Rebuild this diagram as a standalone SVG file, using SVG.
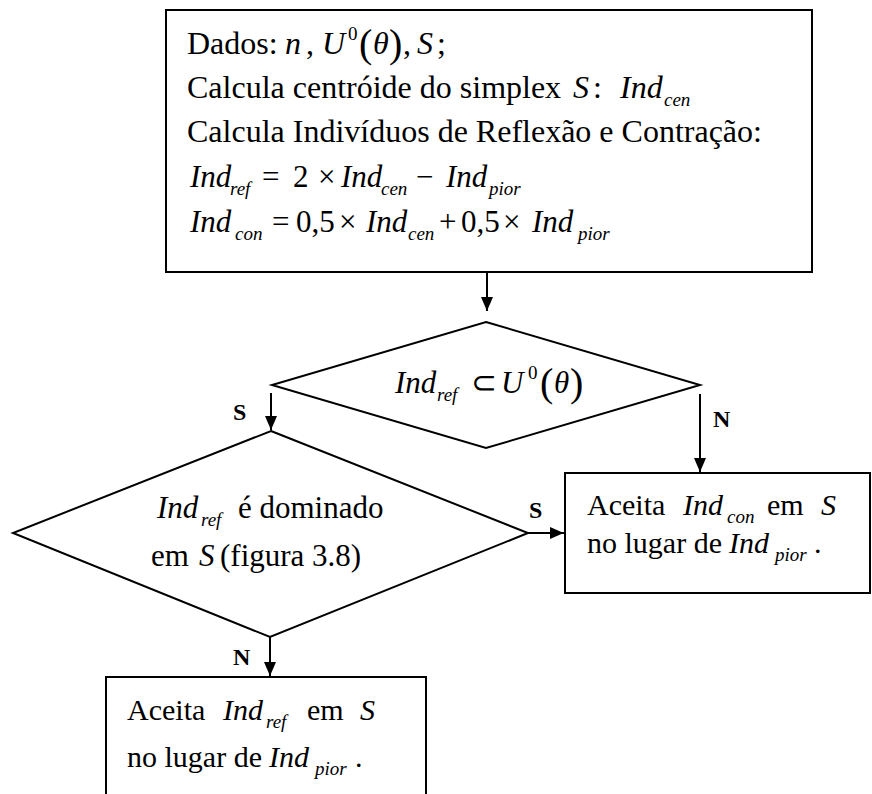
<svg xmlns="http://www.w3.org/2000/svg" width="872" height="794" viewBox="0 0 872 794">
<style>
text{font-family:"Liberation Serif","Times New Roman",serif;font-size:31px;fill:#000}
.t32{font-size:32px}
.t30{font-size:30px}
.i{font-style:italic}
.sub{font-style:italic;font-size:19px}
.sup{font-size:19px}
.par{font-size:40px}
.lbl{font-weight:bold;font-size:24px}
.box{fill:#fff;stroke:#000;stroke-width:2}
.ln{fill:none;stroke:#000;stroke-width:2}
</style>
<defs>
<marker id="ah" markerWidth="12" markerHeight="14" refX="14" refY="6" orient="auto" markerUnits="userSpaceOnUse">
<path d="M0,0 L14,6 L0,12 Z" fill="#000"/>
</marker>
</defs>
<g id="start">
<rect class="box" x="166" y="10" width="646" height="262"/>
<text class="t32" x="187" y="54">Dados: <tspan class="i" x="285">n</tspan><tspan x="306">,</tspan><tspan class="i" x="322">U</tspan><tspan class="sup" x="348" y="40">0</tspan><tspan class="par" x="359" y="57">(</tspan><tspan class="i" x="373" y="54">θ</tspan><tspan class="par" x="389" y="57">)</tspan><tspan x="403" y="54">,</tspan><tspan class="i" x="417">S</tspan><tspan x="437">;</tspan></text>
<text class="t32" x="187" y="98">Calcula centróide do simplex <tspan class="i" x="573">S</tspan><tspan x="593">:</tspan><tspan class="i" x="620">Ind</tspan><tspan class="sub" x="664" y="106">cen</tspan></text>
<text class="t32" x="187" y="142">Calcula Indivíduos de Reflexão e Contração:</text>
<text x="190" y="187"><tspan class="i">Ind</tspan><tspan class="sub" x="230" y="195">ref</tspan><tspan x="262" y="187">=</tspan><tspan x="293">2</tspan><tspan x="318">×</tspan><tspan class="i" x="341">Ind</tspan><tspan class="sub" x="381" y="195">cen</tspan><tspan x="416" y="187">−</tspan><tspan class="i" x="446">Ind</tspan><tspan class="sub" x="489" y="195">pior</tspan></text>
<text x="190" y="232"><tspan class="i">Ind</tspan><tspan class="sub" x="235" y="240">con</tspan><tspan x="272" y="232">=</tspan><tspan x="296">0,5</tspan><tspan x="339">×</tspan><tspan class="i" x="366">Ind</tspan><tspan class="sub" x="408" y="240">cen</tspan><tspan x="439" y="232">+</tspan><tspan x="461">0,5</tspan><tspan x="503">×</tspan><tspan class="i" x="532">Ind</tspan><tspan class="sub" x="578" y="240">pior</tspan></text>
</g>
<g id="dec1">
<polygon class="box" points="486,322 700,385 486,448 272,385"/>
<text y="393"><tspan class="i" x="395">Ind</tspan><tspan class="sub" x="437" y="401">ref</tspan><tspan x="471" y="393">⊂</tspan><tspan class="i" x="501">U</tspan><tspan class="sup" x="528" y="379">0</tspan><tspan class="par" x="540" y="396">(</tspan><tspan class="i" x="554" y="393">θ</tspan><tspan class="par" x="570" y="396">)</tspan></text>
</g>
<g id="dec2">
<polygon class="box" points="271,431 528,533 270,637 13,533"/>
<text y="518"><tspan class="i" x="157">Ind</tspan><tspan class="sub" x="201" y="526">ref</tspan><tspan x="238" y="518">é dominado</tspan></text>
<text y="566"><tspan x="151">em</tspan><tspan class="i" x="199">S</tspan><tspan x="220">(figura 3.8)</tspan></text>
</g>
<g id="acceptCon">
<rect class="box" x="565" y="473" width="305" height="120"/>
<text class="t30" y="515"><tspan x="587">Aceita</tspan><tspan class="i" x="683">Ind</tspan><tspan class="sub" x="727" y="523">con</tspan><tspan x="767" y="515">em</tspan><tspan class="i" x="821">S</tspan></text>
<text class="t30" y="553"><tspan x="587">no lugar de</tspan><tspan class="i" x="729">Ind</tspan><tspan class="sub" x="775" y="561">pior</tspan><tspan x="814" y="553">.</tspan></text>
</g>
<g id="acceptRef">
<rect class="box" x="106" y="677" width="320" height="130"/>
<text class="t30" y="720"><tspan x="127">Aceita</tspan><tspan class="i" x="223">Ind</tspan><tspan class="sub" x="266" y="728">ref</tspan><tspan x="307" y="720">em</tspan><tspan class="i" x="360">S</tspan></text>
<text class="t30" y="767"><tspan x="127">no lugar de</tspan><tspan class="i" x="269">Ind</tspan><tspan class="sub" x="315" y="775">pior</tspan><tspan x="355" y="767">.</tspan></text>
</g>
<g id="connectors">
<line class="ln" x1="487" y1="272" x2="487" y2="311" marker-end="url(#ah)"/>
<line class="ln" x1="271" y1="393" x2="271" y2="430" marker-end="url(#ah)"/>
<line class="ln" x1="700" y1="394" x2="700" y2="472" marker-end="url(#ah)"/>
<line class="ln" x1="528" y1="533" x2="564" y2="533" marker-end="url(#ah)"/>
<line class="ln" x1="270" y1="637" x2="270" y2="676" marker-end="url(#ah)"/>
<text class="lbl" x="233" y="420">S</text>
<text class="lbl" x="713" y="427">N</text>
<text class="lbl" x="529" y="518">S</text>
<text class="lbl" x="233" y="665">N</text>
</g>
</svg>
